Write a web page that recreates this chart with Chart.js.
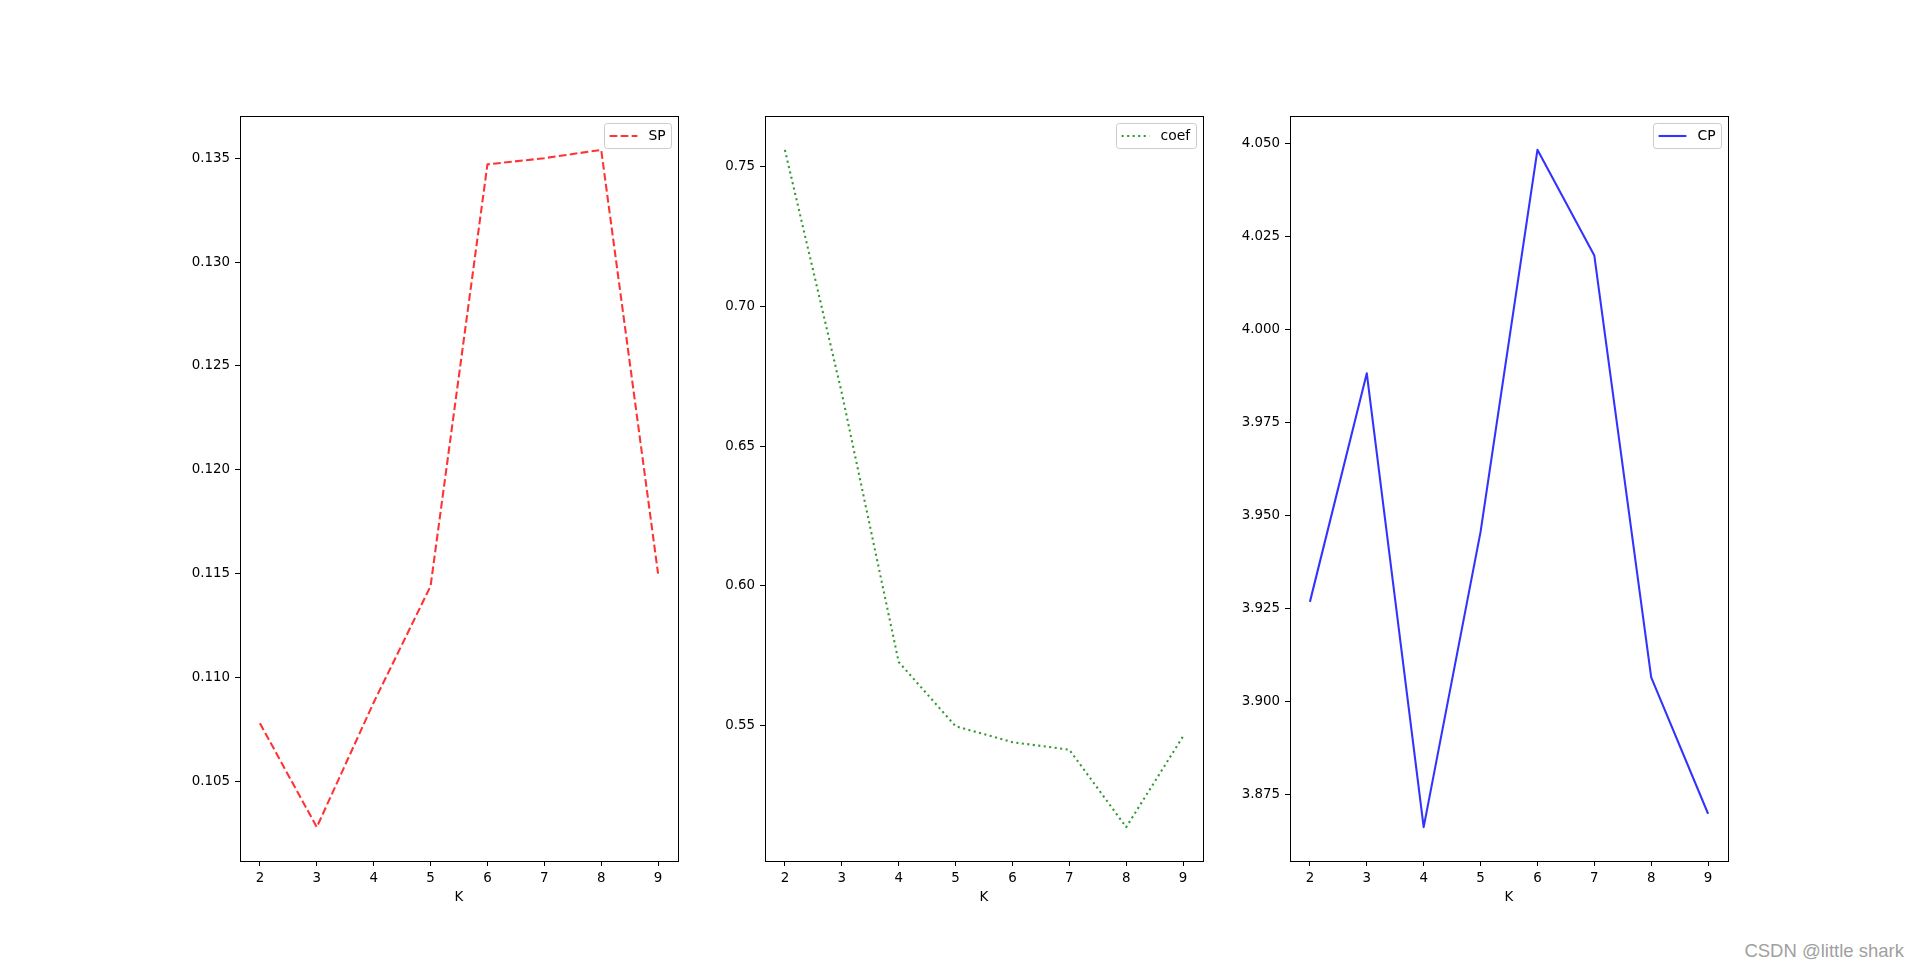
<!DOCTYPE html>
<html>
<head>
<meta charset="utf-8">
<title>SP / coef / CP vs K</title>
<script src="https://cdn.jsdelivr.net/npm/chart.js@4.4.1/dist/chart.umd.min.js"></script>
<style>
  html, body { margin: 0; padding: 0; background: #fff; }
  body { width: 1920px; height: 967px; position: relative; overflow: hidden; }
  canvas { position: absolute; top: 100px; }
  #mark {
    position: absolute; right: 16px; top: 942px;
    font: 18.5px "Liberation Sans", Arial, sans-serif;
    line-height: 18.5px; color: #a0a0a0; white-space: nowrap;
  }
</style>
</head>
<body>
<canvas id="spChart" width="538" height="821" style="left:150px"></canvas>
<canvas id="coefChart" width="538" height="821" style="left:675px"></canvas>
<canvas id="cpChart" width="538" height="821" style="left:1200px"></canvas>
<div id="mark">CSDN @little shark</div>
<script>
// values
const kValues = [2, 3, 4, 5, 6, 7, 8, 9];
const spValues = [0.1078, 0.1028, 0.1088, 0.1144, 0.1347, 0.1350, 0.1354, 0.1150];
const coefValues = [0.756, 0.669, 0.5728, 0.5498, 0.5441, 0.5414, 0.5137, 0.5462];
const cpValues = [3.9268, 3.9882, 3.8663, 3.9456, 4.0482, 4.0198, 3.9065, 3.8699];

const spTicks = [0.105, 0.110, 0.115, 0.120, 0.125, 0.130, 0.135];
const coefTicks = [0.55, 0.60, 0.65, 0.70, 0.75];
const cpTicks = [3.875, 3.900, 3.925, 3.950, 3.975, 4.000, 4.025, 4.050];

const FONT = { family: "DejaVu Sans", size: 13.4 };

// matplotlib style autoscale: 5% margin on each side
function padRange(vals) {
  const lo = Math.min(...vals), hi = Math.max(...vals);
  const m = (hi - lo) * 0.05;
  return { min: lo - m, max: hi + m };
}

// black box around the plot area
const axesFrame = {
  id: "axesFrame",
  afterDatasetsDraw(chart) {
    const { ctx, chartArea: a } = chart;
    ctx.save();
    ctx.strokeStyle = "#000";
    ctx.lineWidth = 1;
    ctx.strokeRect(Math.round(a.left) + 0.5, Math.round(a.top) + 0.5,
      Math.round(a.right - a.left), Math.round(a.bottom - a.top));
    ctx.restore();
  }
};

// legend in the upper right corner, drawn like matplotlib's
const boxLegend = {
  id: "boxLegend",
  afterDraw(chart) {
    const ds = chart.data.datasets[0];
    const { ctx, chartArea: a } = chart;
    ctx.save();
    ctx.font = "13.9px \"DejaVu Sans\"";
    const tw = ctx.measureText(ds.label).width;
    const pad = 5.6, handle = 27.8, gap = 11.1, h = 25;
    const w = pad + handle + gap + tw + pad;
    const x = Math.round(a.right - 7 - w), y = Math.round(a.top + 7);
    ctx.beginPath();
    ctx.roundRect(x + 0.5, y + 0.5, Math.round(w), h, 2.8);
    ctx.fillStyle = "rgba(255,255,255,0.8)";
    ctx.fill();
    ctx.strokeStyle = "#cccccc";
    ctx.lineWidth = 1;
    ctx.stroke();
    const cy = y + h / 2 + 0.5;
    ctx.beginPath();
    ctx.setLineDash(ds.borderDash || []);
    ctx.strokeStyle = ds.borderColor;
    ctx.lineWidth = ds.borderWidth;
    ctx.moveTo(x + pad, cy);
    ctx.lineTo(x + pad + handle, cy);
    ctx.stroke();
    ctx.setLineDash([]);
    ctx.fillStyle = "#000";
    ctx.textBaseline = "middle";
    ctx.fillText(ds.label, x + pad + handle + gap, cy);
    ctx.restore();
  }
};

function makeChart(id, label, values, yTicks, decimals, color, dash) {
  const yr = padRange(values);
  const xr = padRange(kValues);
  return new Chart(document.getElementById(id), {
    type: "line",
    data: {
      datasets: [{
        label: label,
        data: kValues.map((k, i) => ({ x: k, y: values[i] })),
        borderColor: color,
        borderWidth: 2.08,
        borderDash: dash,
        borderJoinStyle: "round",
        pointRadius: 0,
        tension: 0,
        fill: false
      }]
    },
    options: {
      responsive: false,
      animation: false,
      events: [],
      layout: { padding: { left: 0, right: 10, top: 16, bottom: 0 } },
      plugins: { legend: { display: false }, tooltip: { enabled: false } },
      scales: {
        x: {
          type: "linear",
          min: xr.min,
          max: xr.max,
          afterBuildTicks: (s) => { s.ticks = kValues.map((v) => ({ value: v })); },
          afterFit: (s) => { s.height = 60; },
          grid: { drawOnChartArea: false, tickLength: 5, tickColor: "#000" },
          border: { display: false },
          ticks: { font: FONT, color: "#000", padding: 4, maxRotation: 0,
                   callback: (v) => String(v) },
          title: { display: true, text: "K", font: FONT, color: "#000",
                   padding: { top: 4, bottom: 15 } }
        },
        y: {
          type: "linear",
          min: yr.min,
          max: yr.max,
          afterBuildTicks: (s) => { s.ticks = yTicks.map((v) => ({ value: v })); },
          afterFit: (s) => { s.width = 90; },
          grid: { drawOnChartArea: false, tickLength: 5, tickColor: "#000" },
          border: { display: false },
          ticks: { font: FONT, color: "#000", padding: 5,
                   callback: (v) => Number(v).toFixed(decimals) }
        }
      }
    },
    plugins: [axesFrame, boxLegend]
  });
}

makeChart("spChart", "SP", spValues, spTicks, 3, "rgba(255,0,0,0.8)", [7.7, 3.33]);
makeChart("coefChart", "coef", coefValues, coefTicks, 2, "rgba(0,128,0,0.8)", [2.08, 3.44]);
makeChart("cpChart", "CP", cpValues, cpTicks, 3, "rgba(0,0,255,0.8)", []);
</script>
</body>
</html>
